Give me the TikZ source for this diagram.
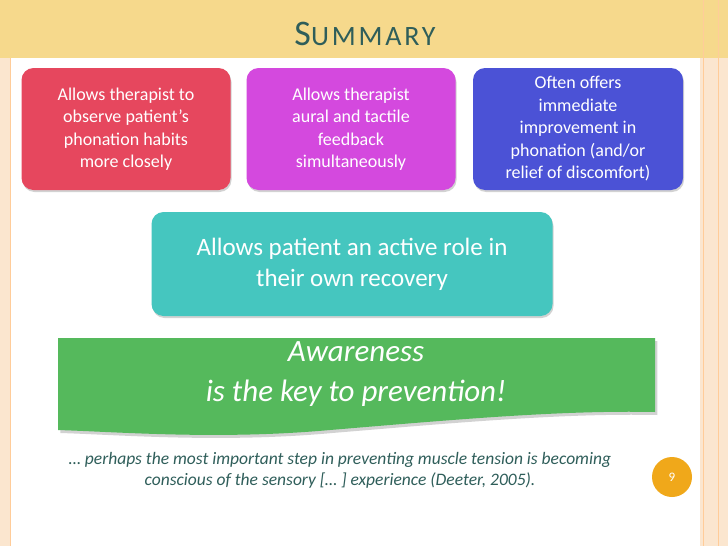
\documentclass[tikz,border=0pt]{standalone}
\usepackage{fontspec}
\setmainfont{Carlito}
\usetikzlibrary{shadows}
\definecolor{band}{HTML}{F6D98C}
\definecolor{frame}{HTML}{FBE6CF}
\definecolor{titlec}{HTML}{2F5E5A}
\definecolor{redb}{HTML}{E6475E}
\definecolor{magb}{HTML}{D449DE}
\definecolor{blueb}{HTML}{4B52D6}
\definecolor{tealb}{HTML}{45C6BF}
\definecolor{greenb}{HTML}{55B95C}
\definecolor{orangec}{HTML}{F0A81A}
\begin{document}
\begin{tikzpicture}[x=1pt,y=-1pt,
  box/.style={rounded corners=12pt,text=white,align=center,inner sep=0pt,font=\fontsize{18}{22.5}\selectfont,drop shadow={opacity=0.35,shadow xshift=1pt,shadow yshift=-2pt}}]
\useasboundingbox (0,0) rectangle (728,546);
\fill[frame] (0,0) rectangle (728,546);
\fill[white] (10,58) rectangle (700,546);
\fill[band] (0,0) rectangle (728,58);
\draw[orange!40,line width=1pt] (703,0) -- (703,546) (718,0) -- (718,546);
\draw[orange!40,line width=0.6pt] (10,58) -- (10,546);
\node[text=titlec,font=\addfontfeature{LetterSpace=10}] (title) at (365,34) {\fontsize{36}{36}\selectfont S\fontsize{28}{28}\selectfont UMMARY};
\node[box,fill=redb,minimum width=209pt,minimum height=122pt] (b1) at (126,129) {Allows therapist to\\observe patient’s\\phonation habits\\more closely};
\node[box,fill=magb,minimum width=209pt,minimum height=122pt] (b2) at (351,129) {Allows therapist\\aural and tactile\\feedback\\simultaneously};
\node[box,fill=blueb,minimum width=210pt,minimum height=122pt] (b3) at (578,129) {Often offers\\immediate\\improvement in\\phonation (and/or\\relief of discomfort)};
\node[box,fill=tealb,minimum width=401pt,minimum height=104pt,font=\fontsize{25}{31}\selectfont] (b4) at (352,264) {Allows patient an active role in\\their own recovery};
\fill[greenb,drop shadow={opacity=0.35,shadow yshift=-3pt}] (58,338) -- (655,338) -- (655,412) .. controls (560,410) and (450,420) .. (330,430) .. controls (220,440) and (120,432) .. (58,430) -- cycle;
\node[text=white,align=center,font=\fontsize{31}{40}\selectfont\itshape] (aw) at (356,374) {Awareness\\is the key to prevention!};
\node[text=titlec,align=center,font=\fontsize{17.5}{21}\selectfont\itshape] (q) at (340,470) {… perhaps the most important step in preventing muscle tension is becoming\\conscious of the sensory [… ] experience (Deeter, 2005).};
\node[circle,fill=orangec,minimum size=40pt,text=white,font=\fontsize{13}{13}\selectfont] (pg) at (672,477) {9};
\end{tikzpicture}
\end{document}
